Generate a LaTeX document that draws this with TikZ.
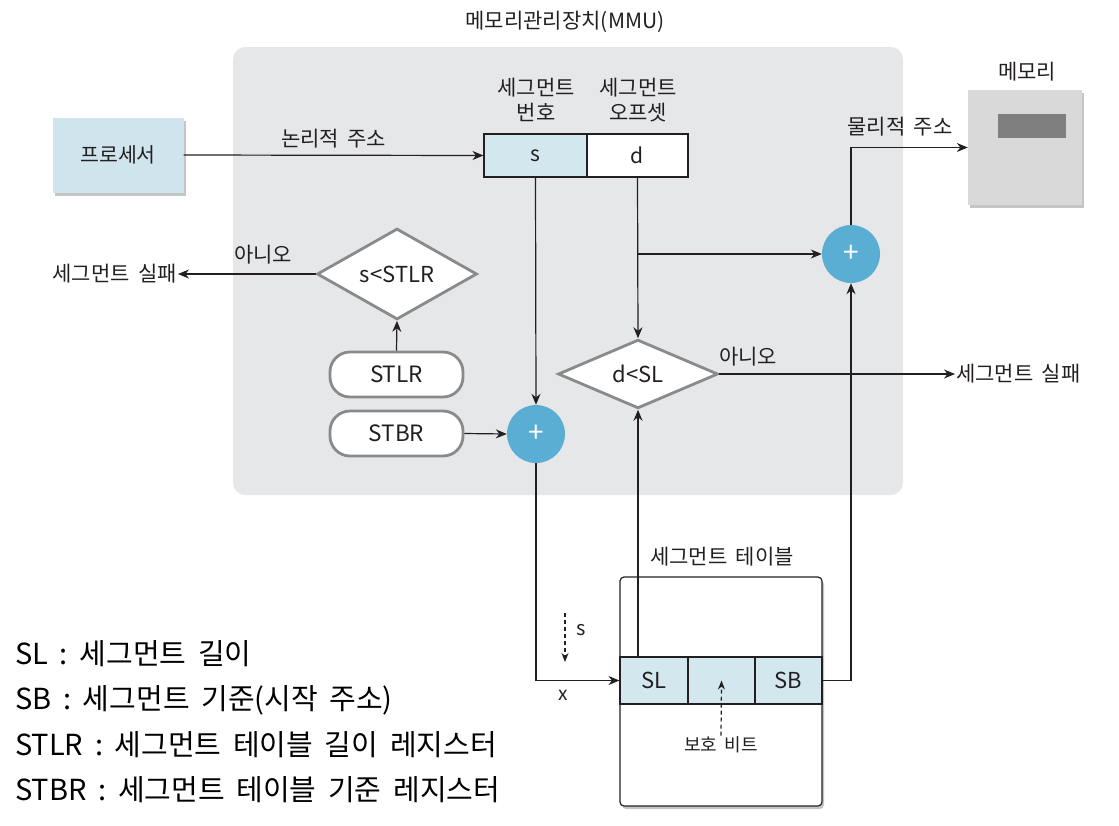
\documentclass[tikz,border=0pt]{standalone}
\usepackage{fontspec}
\setmainfont{Noto Sans CJK KR}
\newfontfamily\krc{Noto Sans CJK KR}
\newfontfamily\krl{Noto Sans CJK KR}
\newfontfamily\krleg[WordSpace=1.8]{Noto Sans CJK KR}
\usetikzlibrary{shapes.geometric,arrows.meta,shadows,calc}
\definecolor{mmugray}{HTML}{E6E7E9}
\definecolor{cellblue}{HTML}{D3E7EF}
\definecolor{procblue}{HTML}{CFE4EC}
\definecolor{circblue}{HTML}{5AADD3}
\definecolor{bordgray}{HTML}{8A8A8A}
\definecolor{memgray}{HTML}{D9D9DA}
\definecolor{memdark}{HTML}{7F7F7F}
\definecolor{txt}{HTML}{231F20}
\tikzset{
  lbl/.style={font=\krc\fontsize{21}{24}\selectfont, text=txt, inner sep=1pt},
  conn/.style={draw=txt, line width=1.2pt, -{Stealth[length=11pt,width=9pt]}},
  cellbox/.style={draw=txt, line width=1.1pt, minimum height=43pt, inner sep=0pt, font=\krc\fontsize{21}{24}\selectfont, text=txt},
  plus/.style={circle, fill=circblue, minimum size=58pt, inner sep=0pt, text=white, font=\krl\fontsize{28}{28}\selectfont},
  decide/.style={diamond, draw=bordgray, line width=2.8pt, fill=white, inner sep=0pt, minimum width=160pt, minimum height=66pt, font=\krc\fontsize{22}{24}\selectfont, text=txt},
  pill/.style={rectangle, rounded corners=20pt, draw=bordgray, line width=2.8pt, fill=white, minimum width=133pt, minimum height=45pt, inner sep=0pt, font=\krc\fontsize{22.5}{24}\selectfont, text=txt},
  shad/.style={drop shadow={shadow xshift=2pt, shadow yshift=-3pt, fill=black!45, opacity=0.5}},
  legend/.style={font=\krleg\fontsize{29}{32}\selectfont, text=black, anchor=west, inner sep=0pt}
}
\begin{document}
\begin{tikzpicture}[x=1pt,y=-1pt]
\useasboundingbox (0,0) rectangle (1119,825);
% MMU background
\node[fill=mmugray, rounded corners=12pt, minimum width=670pt, minimum height=448pt, inner sep=0pt] (mmu) at (568,271) {};
\node[lbl] (mmut) at (565,22) {메모리관리장치(MMU)};
% processor
\node[shad, fill=procblue, minimum width=131pt, minimum height=75pt, inner sep=0pt, font=\krc\fontsize{20.5}{24}\selectfont, text=txt] (proc) at (118,155) {프로세서};
% memory
\node[shad, fill=memgray, minimum width=114pt, minimum height=115pt, inner sep=0pt] (mem) at (1025,147.5) {};
\node[fill=memdark, minimum width=68pt, minimum height=24pt, inner sep=0pt] (memin) at (1032,126) {};
\node[lbl] (memt) at (1027,72) {메모리};
% logical address cells
\node[cellbox, fill=cellblue, minimum width=103pt] (scell) at (535.5,155.5) {s};
\node[cellbox, fill=white, minimum width=101pt] (dcell) at (637.5,155.5) {d};
\node[lbl, align=center] (snum) at (536,100) {세그먼트\\[1pt]번호};
\node[lbl, align=center] (doff) at (638,100) {세그먼트\\[1pt]오프셋};
% adders
\node[plus] (c1) at (536,434) {+};
\node[plus] (c2) at (851,254) {+};
% decisions
\node[decide] (d1) at (397,274) {s<STLR};
\node[decide] (d2) at (638,374) {d<SL};
% registers
\node[pill] (stlr) at (396.5,374.5) {STLR};
\node[pill] (stbr) at (396.5,433.5) {STBR};
% failures
\node[lbl, anchor=east] (f1) at (178,274) {세그먼트 실패};
\node[lbl, anchor=west] (f2) at (955,374) {세그먼트 실패};
% segment table
\node[shad, draw=txt, line width=1.2pt, fill=white, rounded corners=4pt, minimum width=202pt, minimum height=229pt, inner sep=0pt] (tbl) at (721,691.5) {};
\node[lbl] (tblt) at (722,557) {세그먼트 테이블};
\node[cellbox, fill=cellblue, minimum width=68pt, minimum height=47pt, font=\krc\fontsize{22}{24}\selectfont] (sl) at (654,680.5) {SL};
\node[cellbox, fill=cellblue, minimum width=67pt, minimum height=47pt] (pb) at (721.5,680.5) {};
\node[cellbox, fill=cellblue, minimum width=67pt, minimum height=47pt, font=\krc\fontsize{22}{24}\selectfont] (sb) at (788.5,680.5) {SB};
\node[font=\krc\fontsize{18}{20}\selectfont, text=txt, inner sep=1pt] (pbt) at (721,745) {보호 비트};
% connectors
\draw[conn] (proc.east) -- (scell.west) node[lbl, midway, above=5pt] (la) {논리적 주소};
\draw[conn] (scell.south) -- (c1.north);
\draw[conn] (dcell.south) -- (d2.north);
\coordinate (br) at (dcell.south |- c2.west);
\draw[conn] (br) -- (c2.west);
\draw[conn] (c2.north) |- (mem.west);
\node[lbl] (pa) at (900,127) {물리적 주소};
\draw[conn] (d1.west) -- (f1.east);
\node[lbl] (no1) at (263,255) {아니오};
\draw[conn] (stlr.north) -- (d1.south);
\draw[conn] (stbr.east) -- (c1.west);
\draw[conn] (d2.east) -- (f2.west);
\node[lbl] (no2) at (748,357) {아니오};
\draw[conn] (c1.south) |- (sl.west);
\node[lbl, font=\krc\fontsize{19}{22}\selectfont] (xl) at (563,695) {x};
\draw[conn] (d2.south |- sl.north) -- (d2.south);
\draw[conn] (sb.east) -| (c2.south);
\coordinate (ds1) at (565,613);
\coordinate (ds2) at (565,662);
\draw[txt, line width=1.2pt, dash pattern=on 4pt off 3pt, -{Stealth[length=9pt,width=7pt]}] (ds1) -- (ds2);
\node[lbl, font=\krc\fontsize{20}{22}\selectfont] (sl2) at (581,630) {s};
\draw[txt, line width=1.2pt, dash pattern=on 4pt off 3pt, -{Stealth[length=9pt,width=7pt]}] (pbt.north) -- (pb.center);
% legend
\node[legend] (lg1) at (15,654) {SL : 세그먼트 길이};
\node[legend] (lg2) at (15,700) {SB : 세그먼트 기준(시작 주소)};
\node[legend] (lg3) at (15,745) {STLR : 세그먼트 테이블 길이 레지스터};
\node[legend] (lg4) at (15,790) {STBR : 세그먼트 테이블 기준 레지스터};
\end{tikzpicture}
\end{document}
